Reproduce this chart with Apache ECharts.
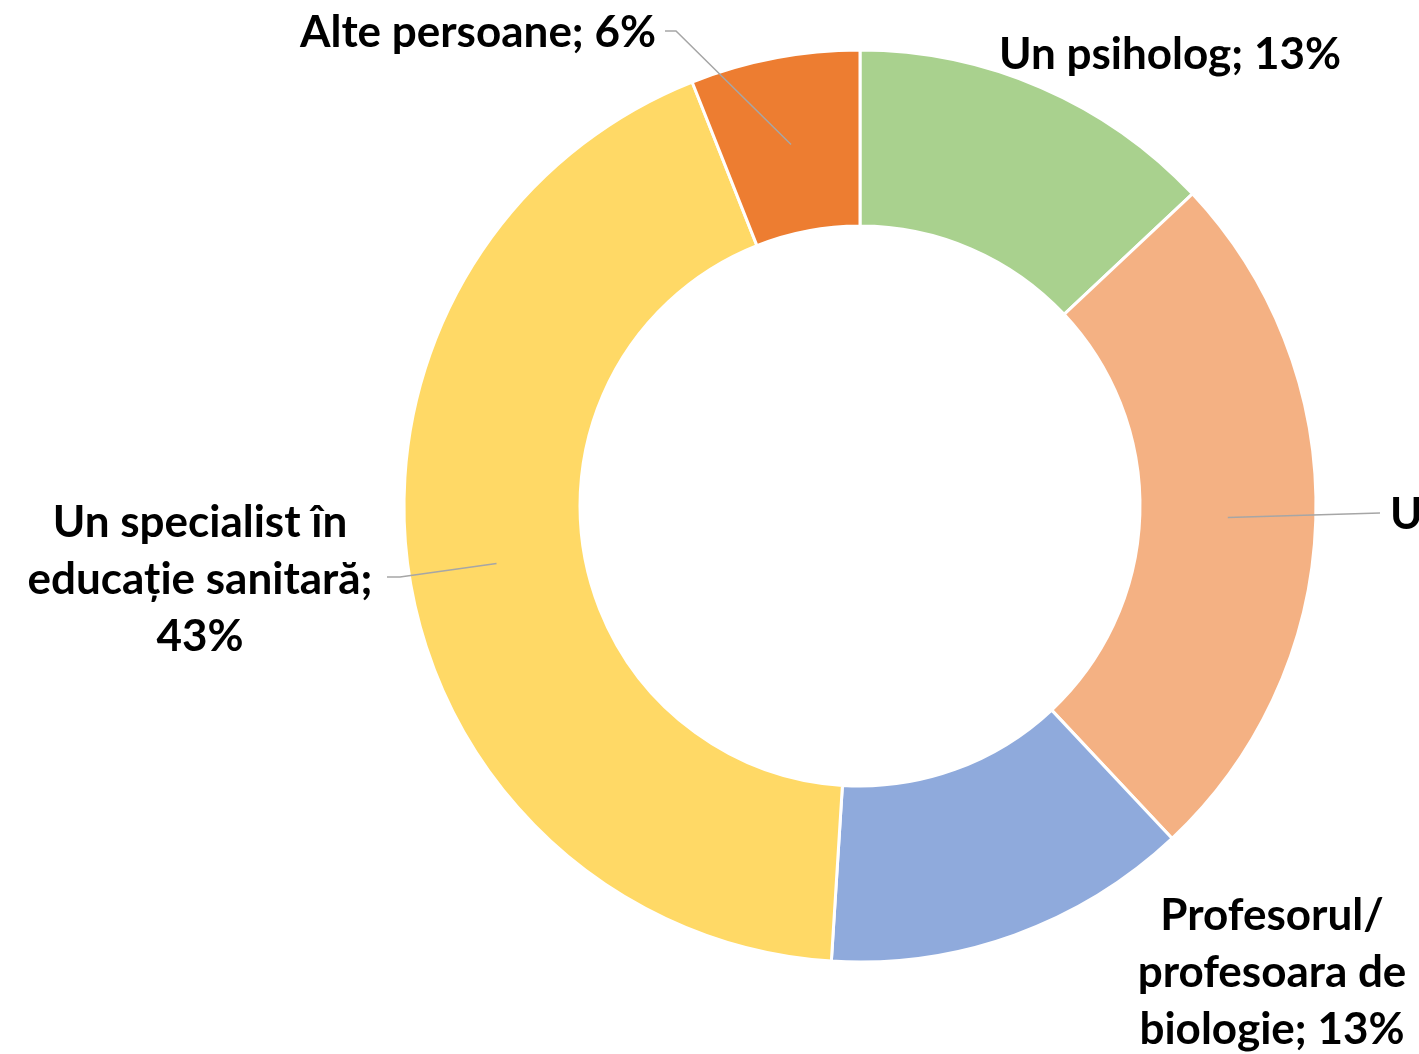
<!DOCTYPE html>
<html>
<head>
<meta charset="utf-8">
<title>Donut</title>
<script src="https://cdn.jsdelivr.net/npm/echarts@6/dist/echarts.min.js"></script>
<style>
  body { margin: 0; background: #fff; }
  #main { width: 1419px; height: 1054px; }
</style>
</head>
<body>
<div id="main"></div>
<script>
// data (clockwise from 12 o'clock)
var categories = ['Un psiholog', 'U', 'Profesorul/ profesoara de biologie', 'Un specialist în educație sanitară', 'Alte persoane'];
var shares = [13, 25, 13, 43, 6];
// how the labels break into lines
var labelTexts = [
  'Un psiholog; 13%',
  'U',
  'Profesorul/\nprofesoara de\nbiologie; 13%',
  'Un specialist în\neducație sanitară;\n43%',
  'Alte persoane; 6%'
];

var colors = ['#A9D18E', '#F4B183', '#8FAADC', '#FFD966', '#ED7D31'];

var CX = 860, CY = 506, R0 = 280, R1 = 456;

// where each label sits, and where its leader ends
var spots = [
  { x: 1170, y: 55, align: 'center' },
  { x: 1390, y: 515, align: 'left', line: [[1380, 513]] },
  { x: 1272, y: 973, align: 'center' },
  { x: 200, y: 580, align: 'center', line: [[400, 577], [387, 577]] },
  { x: 478, y: 33, align: 'center', line: [[676, 31], [665, 31]] }
];

var total = shares.reduce(function (a, b) { return a + b; }, 0);
// middle of a slice, halfway through the ring
function midPoint(i) {
  var before = 0;
  for (var k = 0; k < i; k++) before += shares[k];
  var a = (before + shares[i] / 2) / total * Math.PI * 2;
  var r = (R0 + R1) / 2;
  return [CX + r * Math.sin(a), CY - r * Math.cos(a)];
}

// leaders drawn on top of the ring (pie label lines stop at the outer edge)
var leaders = [];
spots.forEach(function (s, i) {
  if (!s.line) return;
  leaders.push({
    type: 'polyline',
    z: 100,
    silent: true,
    shape: { points: [midPoint(i)].concat(s.line) },
    style: { stroke: '#A6A6A6', lineWidth: 1.5, fill: null }
  });
});

var chart = echarts.init(document.getElementById('main'));
chart.setOption({
  animation: false,
  color: colors,
  graphic: leaders,
  series: [{
    type: 'pie',
    center: [CX, CY],
    radius: [R0, R1],
    startAngle: 90,
    clockwise: true,
    silent: true,
    avoidLabelOverlap: false,
    itemStyle: { borderColor: '#fff', borderWidth: 3 },
    label: {
      show: true,
      position: 'outside',
      overflow: 'none',
      color: '#000',
      fontFamily: 'Lato',
      fontWeight: 'bold',
      fontSize: 44,
      lineHeight: 57,
      formatter: function (p) { return labelTexts[p.dataIndex]; }
    },
    labelLine: { show: false },
    labelLayout: function (p) {
      var s = spots[p.dataIndex];
      return { x: s.x, y: s.y, align: s.align, verticalAlign: 'middle' };
    },
    data: categories.map(function (name, i) {
      return { name: name, value: shares[i] };
    })
  }]
});
</script>
</body>
</html>
